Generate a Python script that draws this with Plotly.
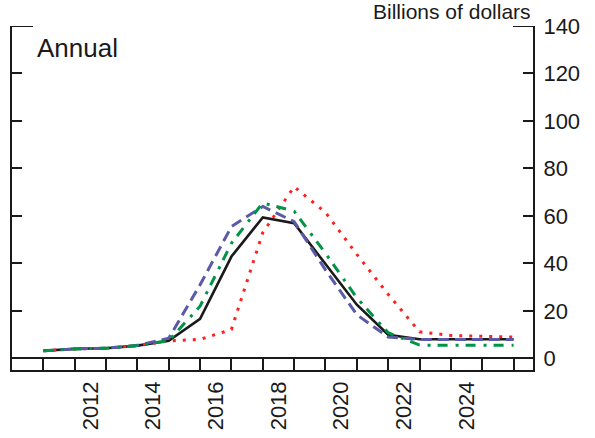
import plotly.graph_objects as go

years = list(range(2011, 2027))
black = [3.2, 4.0, 4.3, 5.4, 7.4, 16.7, 42.9, 59.4, 56.9, 40.0, 22.6, 10.0, 8.1, 8.1, 8.1, 8.1]
blue = [3.2, 4.0, 4.3, 5.5, 8.5, 31.0, 55.5, 64.0, 57.6, 37.3, 18.4, 9.0, 8.0, 8.0, 8.0, 8.0]
green = [3.2, 4.0, 4.3, 5.4, 7.5, 22.0, 48.5, 65.5, 62.0, 44.3, 25.5, 10.8, 5.6, 5.5, 5.5, 5.5]
red = [3.2, 4.0, 4.3, 5.4, 7.4, 8.0, 12.2, 53.0, 72.3, 61.5, 43.8, 27.0, 11.2, 9.7, 9.3, 9.0]

cell_bounds = list(range(2010, 2027))
label_years = [2012, 2014, 2016, 2018, 2020, 2022, 2024]
y_ticks = [0, 20, 40, 60, 80, 100, 120, 140]

FONT = "Liberation Sans, Arial, sans-serif"

fig = go.Figure()
fig.add_trace(go.Scatter(x=years, y=black, mode="lines",
                         line=dict(color="#1a1a1a", width=2.6), showlegend=False))
fig.add_trace(go.Scatter(x=years, y=red, mode="lines",
                         line=dict(color="#ff1f1f", width=3, dash="3px,7px"), showlegend=False))
fig.add_trace(go.Scatter(x=years, y=blue, mode="lines",
                         line=dict(color="#5a5aa8", width=3, dash="11px,6px"), showlegend=False))
fig.add_trace(go.Scatter(x=years, y=green, mode="lines",
                         line=dict(color="#009447", width=3, dash="10px,8px,3px,7px"), showlegend=False))
fig.add_trace(go.Scatter(x=[2010], y=[None], xaxis="x2", showlegend=False, hoverinfo="skip"))

x_range = [2010, 2026.62]
y_range = [-4.88, 140]

fig.update_layout(
    width=595, height=438,
    margin=dict(l=12, r=62.3, t=25.7, b=67.7),
    paper_bgcolor="white", plot_bgcolor="white",
    font=dict(family=FONT, color="#1a1a1a"),
    xaxis=dict(range=x_range, tickvals=cell_bounds, ticks="inside", ticklen=12,
               tickwidth=2, tickcolor="#1a1a1a", showticklabels=False,
               showline=True, linewidth=2, linecolor="#1a1a1a", mirror=False,
               showgrid=False, zeroline=False, automargin=False),
    xaxis2=dict(range=x_range, overlaying="x", side="bottom", anchor="y",
                tickvals=[y + 0.5 for y in label_years],
                ticktext=[str(y) for y in label_years],
                ticks="", tickangle=-90, tickfont=dict(size=22, family=FONT),
                showline=False, showgrid=False, zeroline=False,
                ticklabelstandoff=6, automargin=False),
    yaxis=dict(range=y_range, side="right", tickvals=y_ticks, ticks="inside",
               ticklen=10, tickwidth=2, tickcolor="#1a1a1a", showline=True,
               linewidth=2, linecolor="#1a1a1a", mirror="ticks", showgrid=False,
               zeroline=True, zerolinewidth=2, zerolinecolor="#1a1a1a",
               tickfont=dict(size=22, family=FONT), ticklabelstandoff=4,
               automargin=False),
    shapes=[
        dict(type="line", xref="paper", xsizemode="pixel", xanchor=0, x0=0, x1=21,
             yref="y", y0=140, y1=140, line=dict(color="#1a1a1a", width=2)),
        dict(type="line", xref="paper", xsizemode="pixel", xanchor=1, x0=-20, x1=0,
             yref="y", y0=140, y1=140, line=dict(color="#1a1a1a", width=2)),
    ],
    annotations=[
        dict(text="Billions of dollars", xref="paper", yref="paper", x=1, y=1.002,
             xanchor="right", yanchor="bottom", showarrow=False,
             font=dict(size=21, family=FONT)),
        dict(text="Annual", xref="paper", yref="paper", x=0.044, y=0.985,
             xanchor="left", yanchor="top", showarrow=False,
             font=dict(size=26, family=FONT)),
    ],
)

fig.write_html("out.html", config={"displayModeBar": False},
               post_script="document.body.style.margin='0px';")
